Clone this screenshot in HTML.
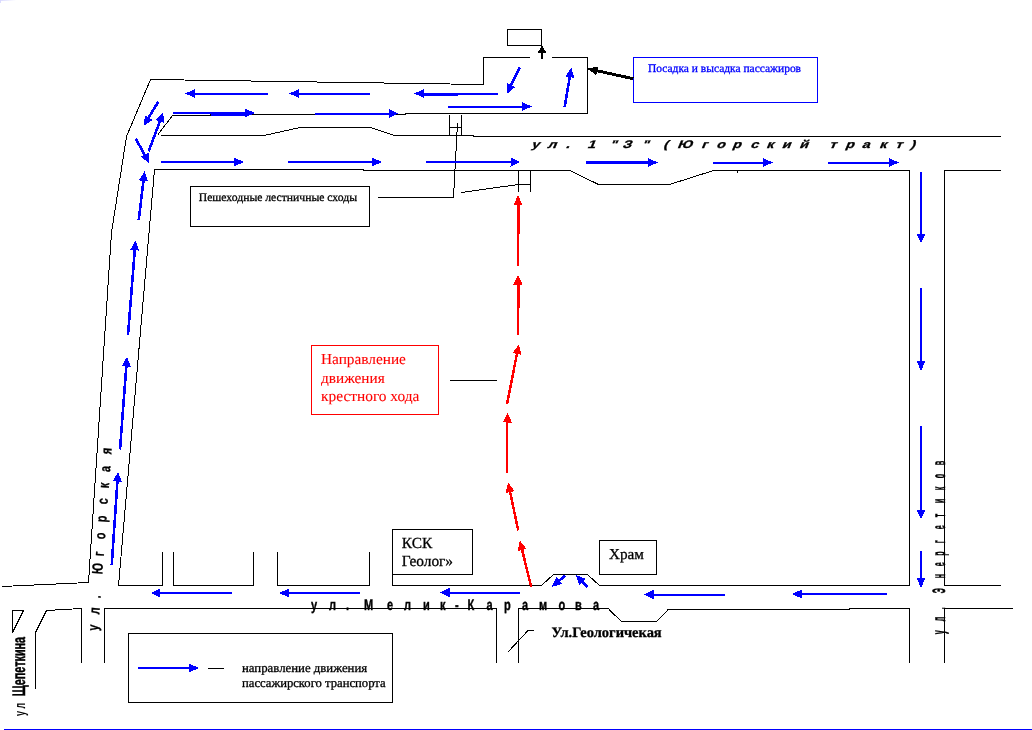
<!DOCTYPE html>
<html><head><meta charset="utf-8"><title>Схема</title>
<style>
html,body{margin:0;padding:0;background:#fff;}
body{width:1032px;height:730px;overflow:hidden;position:relative;font-family:"Liberation Serif",serif;}
svg{position:absolute;left:0;top:0;display:block;will-change:transform;}
.c{position:absolute;left:0;top:0;width:16px;height:1px;background:linear-gradient(90deg,rgba(215,215,255,.9),rgba(255,255,255,0));}
.c2{position:absolute;left:0;top:0;width:1px;height:3px;background:rgba(215,215,255,.9);}
</style></head><body>
<div class="c"></div><div class="c2"></div>
<svg width="1032" height="730" viewBox="0 0 1032 730" shape-rendering="crispEdges" text-rendering="geometricPrecision">
<path d="M587.5 113.5 L587.5 57.5 L552 57.5" stroke="#000000" stroke-width="1" fill="none"/>
<path d="M530 57.5 L483.5 57.5 L483.5 84.5 L150.5 79.5 L126.5 136.5 L111.5 232.5 L88.5 582.5 L2 586.5" stroke="#000000" stroke-width="1" fill="none"/>
<path d="M587.5 113.5 L405.5 113.5 L405.5 114.5 L210 114.5 L210 115.5 L172.5 115.5 L158 134.5" stroke="#000000" stroke-width="1" fill="none"/>
<path d="M160.5 135.5 L264 135.5 L300 127.5 L370.5 127.5 L394.5 135.5 L473.5 135.5 L473.5 136.5 L1000.5 136.5" stroke="#000000" stroke-width="1" fill="none"/>
<path d="M162.5 552 L162.5 585.5 L118.5 585.5 L154.5 169.5 L363 169.5 L363 170.5 L570 170.5 L598.5 184.5 L669.5 184.5 L713.5 170.5 L909.5 170.5 L909.5 585.5 L599.5 585.5 L587.5 574.5 L553.5 574.5 L541.5 585.5 L392.5 585.5 L392.5 574.5" stroke="#000000" stroke-width="1" fill="none"/>
<path d="M737.5 170.5 L737.5 173" stroke="#000000" stroke-width="1" fill="none"/>
<rect x="392.5" y="529.5" width="80" height="45" stroke="#000000" stroke-width="1" fill="none"/>
<rect x="599.5" y="540.5" width="57" height="34" stroke="#000000" stroke-width="1" fill="none"/>
<rect x="507.5" y="29.5" width="34" height="16" stroke="#000000" stroke-width="1" fill="none"/>
<rect x="190.5" y="186.5" width="179" height="40" stroke="#000000" stroke-width="1" fill="none"/>
<rect x="128.5" y="633.5" width="264" height="69" stroke="#000000" stroke-width="1" fill="none"/>
<rect x="633.5" y="57.5" width="184" height="45" stroke="#0000ff" stroke-width="1" fill="none"/>
<rect x="311.5" y="345.5" width="127" height="69" stroke="#ff0000" stroke-width="1" fill="none"/>
<path d="M173.5 552 L173.5 585.5 L253.5 585.5 L253.5 552" stroke="#000000" stroke-width="1" fill="none"/>
<path d="M277.5 552 L277.5 585.5 L369.5 585.5 L369.5 552" stroke="#000000" stroke-width="1" fill="none"/>
<path d="M449.5 115 L449.5 135" stroke="#000000" stroke-width="1" fill="none"/>
<path d="M461.5 115 L461.5 135" stroke="#000000" stroke-width="1" fill="none"/>
<path d="M449.5 127.5 L461.5 127.5" stroke="#000000" stroke-width="1" fill="none"/>
<path d="M457.5 123.5 L453.5 197.5 L378 197.5" stroke="#000000" stroke-width="1" fill="none"/>
<path d="M518.5 170.5 L518.5 192" stroke="#000000" stroke-width="1" fill="none"/>
<path d="M530.5 170.5 L530.5 192" stroke="#000000" stroke-width="1" fill="none"/>
<path d="M518.5 184.5 L530.5 184.5" stroke="#000000" stroke-width="1" fill="none"/>
<path d="M461 192.5 L518.5 184.5" stroke="#000000" stroke-width="1" fill="none"/>
<path d="M1000.5 170.5 L944.5 170.5 L944.5 585.5 L1000.5 585.5" stroke="#000000" stroke-width="1" fill="none"/>
<path d="M1012.5 608.5 L944.5 608.5 L944.5 662.5" stroke="#000000" stroke-width="1" fill="none"/>
<path d="M104.5 662.5 L104.5 608.5 L496.5 608.5 L496.5 662.5" stroke="#000000" stroke-width="1" fill="none"/>
<path d="M518.5 662.5 L518.5 608.5 L608.5 608.5 L610 610.5 L621.5 621.5 L656.5 621.5 L667.5 610.5 L667.5 609.5 L849 609.5 L849 608.5 L909.5 608.5 L909.5 662.5" stroke="#000000" stroke-width="1" fill="none"/>
<path d="M507.5 652.5 L528 630.5 L533.5 630.5" stroke="#000000" stroke-width="1" fill="none"/>
<path d="M12.5 610.5 L23.5 610.5 L12.5 632.5 Z" stroke="#000000" stroke-width="1" fill="none"/>
<path d="M35.5 688.5 L35.5 632.5 L46.5 610.5 L81.5 608.5 L81.5 662.5" stroke="#000000" stroke-width="1" fill="none"/>
<path d="M450 380.5 L497 380.5" stroke="#000000" stroke-width="1" fill="none"/>
<path d="M207.5 668.5 L224 668.5" stroke="#000000" stroke-width="1" fill="none"/>
<path d="M4 729.5 L1032 729.5" stroke="#0000ff" stroke-width="1" fill="none"/>
<path d="M267.50 93.50 L194.00 93.50" stroke="#0000ff" stroke-width="2" fill="none"/>
<path d="M185.20 93.50 L195.00 89.00 L195.00 98.00 Z" fill="#0000ff" stroke="none"/>
<path d="M370.00 93.50 L298.00 93.50" stroke="#0000ff" stroke-width="2" fill="none"/>
<path d="M289.20 93.50 L299.00 89.00 L299.00 98.00 Z" fill="#0000ff" stroke="none"/>
<path d="M497.50 93.50 L423.00 93.50" stroke="#0000ff" stroke-width="2" fill="none"/>
<path d="M414.20 93.50 L424.00 89.00 L424.00 98.00 Z" fill="#0000ff" stroke="none"/>
<path d="M172.80 113.00 L246.00 113.00" stroke="#0000ff" stroke-width="2" fill="none"/>
<path d="M254.80 113.00 L245.00 117.50 L245.00 108.50 Z" fill="#0000ff" stroke="none"/>
<path d="M315.00 113.50 L389.50 113.50" stroke="#0000ff" stroke-width="2" fill="none"/>
<path d="M398.30 113.50 L388.50 118.00 L388.50 109.00 Z" fill="#0000ff" stroke="none"/>
<path d="M447.50 106.50 L523.00 106.50" stroke="#0000ff" stroke-width="2" fill="none"/>
<path d="M531.80 106.50 L522.00 111.00 L522.00 102.00 Z" fill="#0000ff" stroke="none"/>
<path d="M161.00 162.00 L235.00 162.00" stroke="#0000ff" stroke-width="2" fill="none"/>
<path d="M243.80 162.00 L234.00 166.50 L234.00 157.50 Z" fill="#0000ff" stroke="none"/>
<path d="M287.50 162.00 L373.00 162.00" stroke="#0000ff" stroke-width="2" fill="none"/>
<path d="M381.80 162.00 L372.00 166.50 L372.00 157.50 Z" fill="#0000ff" stroke="none"/>
<path d="M425.50 162.00 L511.50 162.00" stroke="#0000ff" stroke-width="2" fill="none"/>
<path d="M520.30 162.00 L510.50 166.50 L510.50 157.50 Z" fill="#0000ff" stroke="none"/>
<path d="M713.00 162.50 L764.00 162.50" stroke="#0000ff" stroke-width="2" fill="none"/>
<path d="M772.80 162.50 L763.00 167.00 L763.00 158.00 Z" fill="#0000ff" stroke="none"/>
<path d="M828.00 162.50 L890.00 162.50" stroke="#0000ff" stroke-width="2" fill="none"/>
<path d="M898.80 162.50 L889.00 167.00 L889.00 158.00 Z" fill="#0000ff" stroke="none"/>
<path d="M158.30 101.70 L148.22 118.45" stroke="#0000ff" stroke-width="2.6" fill="none"/>
<path d="M143.69 125.99 L144.88 115.27 L152.60 119.91 Z" fill="#0000ff" stroke="none"/>
<path d="M148.60 151.50 L160.20 120.49" stroke="#0000ff" stroke-width="2.6" fill="none"/>
<path d="M163.28 112.25 L164.06 123.01 L155.63 119.85 Z" fill="#0000ff" stroke="none"/>
<path d="M135.70 138.60 L145.03 155.50" stroke="#0000ff" stroke-width="2.6" fill="none"/>
<path d="M149.29 163.20 L140.61 156.80 L148.49 152.45 Z" fill="#0000ff" stroke="none"/>
<path d="M519.75 67.25 L510.72 86.04" stroke="#0000ff" stroke-width="2.6" fill="none"/>
<path d="M506.90 93.97 L507.09 83.19 L515.21 87.09 Z" fill="#0000ff" stroke="none"/>
<path d="M564.75 106.75 L569.92 76.14" stroke="#0000ff" stroke-width="2.6" fill="none"/>
<path d="M571.38 67.46 L574.19 77.87 L565.31 76.38 Z" fill="#0000ff" stroke="none"/>
<path d="M138.75 220.00 L143.55 179.94" stroke="#0000ff" stroke-width="2.6" fill="none"/>
<path d="M144.60 171.21 L147.90 181.47 L138.96 180.40 Z" fill="#0000ff" stroke="none"/>
<path d="M128.00 335.00 L134.86 249.22" stroke="#0000ff" stroke-width="2.6" fill="none"/>
<path d="M135.56 240.45 L139.27 250.58 L130.30 249.86 Z" fill="#0000ff" stroke="none"/>
<path d="M120.00 449.50 L126.39 365.48" stroke="#0000ff" stroke-width="2.6" fill="none"/>
<path d="M127.06 356.70 L130.80 366.82 L121.83 366.13 Z" fill="#0000ff" stroke="none"/>
<path d="M111.75 565.00 L117.46 480.48" stroke="#0000ff" stroke-width="2.6" fill="none"/>
<path d="M118.05 471.70 L121.88 481.78 L112.90 481.18 Z" fill="#0000ff" stroke="none"/>
<path d="M921.00 172.00 L921.00 234.50" stroke="#0000ff" stroke-width="2" fill="none"/>
<path d="M921.00 243.30 L916.50 233.50 L925.50 233.50 Z" fill="#0000ff" stroke="none"/>
<path d="M921.00 288.00 L921.00 362.00" stroke="#0000ff" stroke-width="2" fill="none"/>
<path d="M921.00 370.80 L916.50 361.00 L925.50 361.00 Z" fill="#0000ff" stroke="none"/>
<path d="M921.00 425.75 L921.00 510.75" stroke="#0000ff" stroke-width="2" fill="none"/>
<path d="M921.00 519.55 L916.50 509.75 L925.50 509.75 Z" fill="#0000ff" stroke="none"/>
<path d="M921.00 551.25 L921.00 579.00" stroke="#0000ff" stroke-width="2" fill="none"/>
<path d="M921.00 587.80 L916.50 578.00 L925.50 578.00 Z" fill="#0000ff" stroke="none"/>
<path d="M887.00 594.00 L800.75 594.00" stroke="#0000ff" stroke-width="2" fill="none"/>
<path d="M791.95 594.00 L801.75 589.50 L801.75 598.50 Z" fill="#0000ff" stroke="none"/>
<path d="M725.00 594.50 L652.50 594.50" stroke="#0000ff" stroke-width="2" fill="none"/>
<path d="M643.70 594.50 L653.50 590.00 L653.50 599.00 Z" fill="#0000ff" stroke="none"/>
<path d="M520.00 592.50 L448.50 592.50" stroke="#0000ff" stroke-width="2" fill="none"/>
<path d="M439.70 592.50 L449.50 588.00 L449.50 597.00 Z" fill="#0000ff" stroke="none"/>
<path d="M359.50 593.00 L288.00 593.00" stroke="#0000ff" stroke-width="2" fill="none"/>
<path d="M279.20 593.00 L289.00 588.50 L289.00 597.50 Z" fill="#0000ff" stroke="none"/>
<path d="M232.00 593.00 L159.25 593.00" stroke="#0000ff" stroke-width="2" fill="none"/>
<path d="M150.45 593.00 L160.25 588.50 L160.25 597.50 Z" fill="#0000ff" stroke="none"/>
<path d="M565.50 575.50 L558.67 581.15" stroke="#0000ff" stroke-width="2.6" fill="none"/>
<path d="M551.88 586.76 L556.57 577.05 L562.30 583.98 Z" fill="#0000ff" stroke="none"/>
<path d="M587.50 587.00 L581.84 581.22" stroke="#0000ff" stroke-width="2.6" fill="none"/>
<path d="M575.69 574.93 L585.76 578.79 L579.33 585.08 Z" fill="#0000ff" stroke="none"/>
<path d="M138.00 668.00 L190.00 668.00" stroke="#0000ff" stroke-width="2" fill="none"/>
<path d="M198.80 668.00 L189.00 672.50 L189.00 663.50 Z" fill="#0000ff" stroke="none"/>
<path d="M586.00 162.50 L649.00 162.50" stroke="#0000ff" stroke-width="3" fill="none"/>
<path d="M657.80 162.50 L648.00 167.00 L648.00 158.00 Z" fill="#0000ff" stroke="none"/>
<path d="M211 114 L246 114" stroke="#0000ff" stroke-width="3" fill="none"/>
<path d="M423 94 L458 94" stroke="#0000ff" stroke-width="3" fill="none"/>
<path d="M518.00 266.25 L518.00 204.00" stroke="#ff0000" stroke-width="2" fill="none"/>
<path d="M518.00 195.20 L522.50 205.00 L513.50 205.00 Z" fill="#ff0000" stroke="none"/>
<path d="M518.5 203 L518.5 234" stroke="#ff0000" stroke-width="3" fill="none"/>
<path d="M518.00 335.00 L518.00 283.50" stroke="#ff0000" stroke-width="2" fill="none"/>
<path d="M518.00 274.70 L522.50 284.50 L513.50 284.50 Z" fill="#ff0000" stroke="none"/>
<path d="M518.5 283 L518.5 308" stroke="#ff0000" stroke-width="3" fill="none"/>
<path d="M507.00 403.75 L517.18 352.84" stroke="#ff0000" stroke-width="2.5" fill="none"/>
<path d="M518.91 344.22 L521.40 354.71 L512.57 352.94 Z" fill="#ff0000" stroke="none"/>
<path d="M507.00 473.00 L507.35 421.50" stroke="#ff0000" stroke-width="2" fill="none"/>
<path d="M507.41 412.70 L511.94 422.53 L502.74 422.47 Z" fill="#ff0000" stroke="none"/>
<path d="M518.25 530.50 L509.91 491.08" stroke="#ff0000" stroke-width="2.5" fill="none"/>
<path d="M508.08 482.47 L514.52 491.12 L505.71 492.99 Z" fill="#ff0000" stroke="none"/>
<path d="M531.25 587.00 L521.91 549.02" stroke="#ff0000" stroke-width="2.5" fill="none"/>
<path d="M519.81 540.47 L526.52 548.92 L517.78 551.06 Z" fill="#ff0000" stroke="none"/>
<path d="M542.00 58.75 L542.00 51.50" stroke="#000000" stroke-width="2" fill="none"/>
<path d="M542.00 45.20 L546.20 52.50 L537.80 52.50 Z" fill="#000000" stroke="none"/>
<path d="M633.25 78.75 L596.30 70.58" stroke="#000000" stroke-width="3" fill="none"/>
<path d="M587.22 68.58 L598.25 66.41 L596.31 75.19 Z" fill="#000000" stroke="none"/>
<text x="198.75" y="201" font-family="'Liberation Serif', serif" font-size="11.67px" fill="#000000" font-weight="normal" font-style="normal" stroke="#000000" stroke-width="0.3" >Пешеходные лестничные сходы</text>
<text x="648" y="72" font-family="'Liberation Serif', serif" font-size="11.48px" fill="#0000ff" font-weight="normal" font-style="normal" stroke="#0000ff" stroke-width="0.3" >Посадка и высадка пассажиров</text>
<text x="321" y="363.75" font-family="'Liberation Serif', serif" font-size="15.3px" fill="#ff0000" font-weight="normal" font-style="normal" stroke="#ff0000" stroke-width="0.1" >Направление</text>
<text x="321" y="383" font-family="'Liberation Serif', serif" font-size="15.3px" fill="#ff0000" font-weight="normal" font-style="normal" stroke="#ff0000" stroke-width="0.1" >движения</text>
<text x="321" y="401.25" font-family="'Liberation Serif', serif" font-size="15.4px" fill="#ff0000" font-weight="normal" font-style="normal" stroke="#ff0000" stroke-width="0.1" >крестного хода</text>
<text x="401.75" y="548" font-family="'Liberation Serif', serif" font-size="15.4px" fill="#000000" font-weight="normal" font-style="normal" stroke="#000000" stroke-width="0.3" >КСК</text>
<text x="401.75" y="565.75" font-family="'Liberation Serif', serif" font-size="15.35px" fill="#000000" font-weight="normal" font-style="normal" stroke="#000000" stroke-width="0.3" >Геолог»</text>
<text x="609" y="558.9" font-family="'Liberation Serif', serif" font-size="15.2px" fill="#000000" font-weight="normal" font-style="normal" stroke="#000000" stroke-width="0.3" >Храм</text>
<text x="551.5" y="637" font-family="'Liberation Serif', serif" font-size="14.46px" fill="#000000" font-weight="bold" font-style="normal" stroke="#000000" stroke-width="0.3" >Ул.Геологичекая</text>
<text x="242" y="672" font-family="'Liberation Serif', serif" font-size="12.8px" fill="#000000" font-weight="normal" font-style="normal" stroke="#000000" stroke-width="0.3" >направление движения</text>
<text x="242" y="687.2" font-family="'Liberation Serif', serif" font-size="12.66px" fill="#000000" font-weight="normal" font-style="normal" stroke="#000000" stroke-width="0.3" >пассажирского транспорта</text>
<g transform=" translate(0,147.5) scale(1.3,1) skewX(-18)"><text x="408.46 420.77 435.00 451.54 468.85 478.46 493.46 510.00 520.77 539.23 550.77 563.08 576.92 589.23 601.15 614.62 637.69 650.00 662.69 676.15 688.46 700.00" y="0" font-family="'Liberation Sans', sans-serif" font-size="11px" font-weight="bold" font-style="normal" fill="#000" stroke="#000" stroke-width="0.3" style="vector-effect:non-scaling-stroke">ул.1&quot;З&quot;(Югорскийтракт)</text></g>
<g transform=" translate(0,609.8) scale(0.72,1)"><text x="431.94 456.94 480.56 505.56 537.50 561.11 587.50 611.11 631.94 649.31 675.69 700.00 725.00 748.61 775.69 798.61 823.61" y="0" font-family="'Liberation Sans', sans-serif" font-size="15.3px" font-weight="bold" font-style="normal" fill="#000" stroke="#000" stroke-width="0.4" style="vector-effect:non-scaling-stroke">ул.Мелик-Карамова</text></g>
<g transform="translate(97.4,640) rotate(-85.7) translate(0,0) scale(0.72,1)"><text x="12.55 35.53 57.82 91.24 116.31 139.99 163.67 188.74 211.02 233.66 258.38" y="0" font-family="'Liberation Sans', sans-serif" font-size="15px" font-weight="bold" font-style="normal" fill="#000" stroke="#000" stroke-width="0.3" style="vector-effect:non-scaling-stroke">ул.Югорская</text></g>
<g transform="translate(944.5,640) rotate(-90) translate(0,0) scale(0.4,1)"><text x="14.50 47.00 77.00 117.00 154.50 184.50 210.50 242.00 277.00 307.00 342.00 374.50 404.50 437.00" y="0" font-family="'Liberation Sans', sans-serif" font-size="18px" font-weight="bold" font-style="normal" fill="#000" stroke="#000" stroke-width="0.5" style="vector-effect:non-scaling-stroke">ул.Энергетиков</text></g>
<g transform="translate(24.6,716) rotate(-90) scale(0.6,1)"><text x="0 12.5" y="0" font-family="'Liberation Sans', sans-serif" font-size="15px" font-weight="bold" fill="#000">ул</text><text x="33" y="0" font-family="'Liberation Sans', sans-serif" font-size="18px" font-weight="bold" fill="#000" stroke="#000" stroke-width="0.5" style="vector-effect:non-scaling-stroke">Щепеткина</text></g>
</svg>
</body></html>
